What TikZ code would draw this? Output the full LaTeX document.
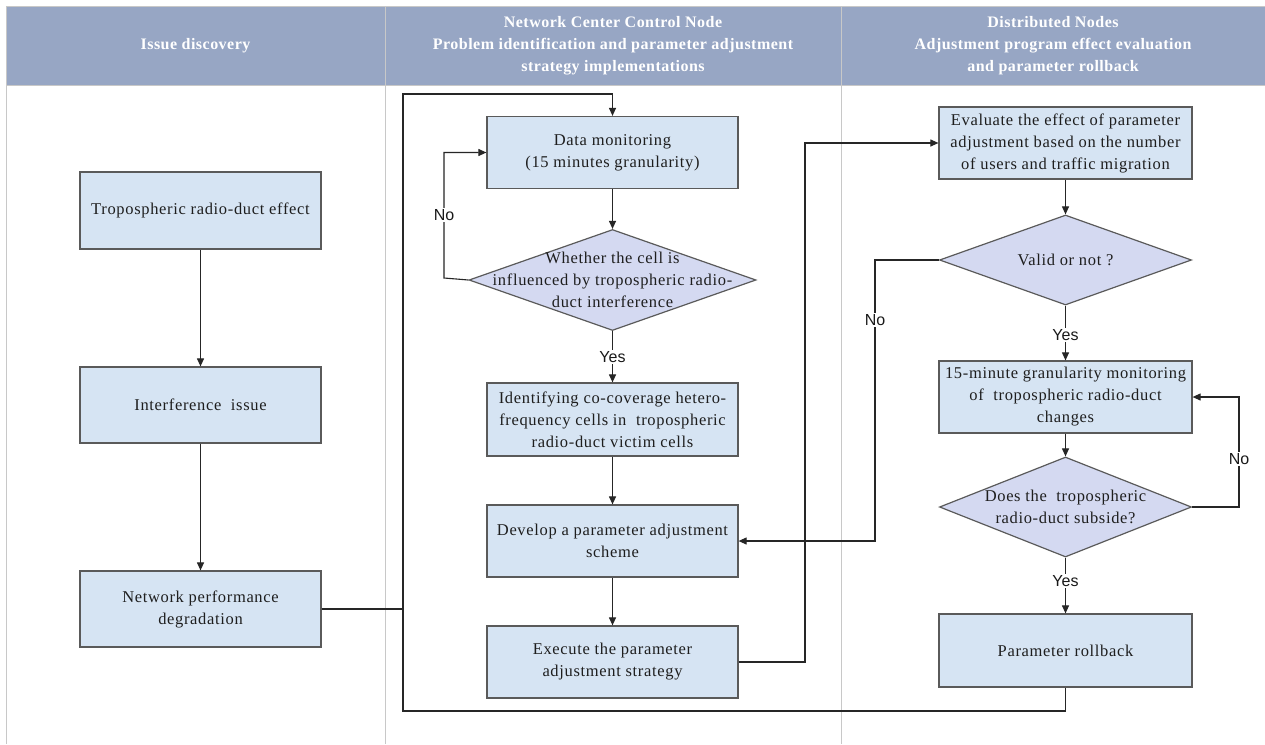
\documentclass[tikz,border=0pt]{standalone}
\usepackage{fontspec}
\setmainfont{Liberation Serif}
\newfontfamily\boxfont{Liberation Serif}[LetterSpace=4]
\newfontfamily\headfont{Liberation Serif}[LetterSpace=3]
\newfontfamily\labfont{Liberation Sans}
\usetikzlibrary{arrows.meta,shapes.geometric}
\definecolor{headbg}{RGB}{151,166,196}
\definecolor{boxfill}{RGB}{214,228,243}
\definecolor{dfill}{RGB}{212,217,241}
\definecolor{boxline}{RGB}{90,90,90}
\definecolor{laneline}{RGB}{200,200,200}
\definecolor{txt}{RGB}{30,30,30}
\begin{document}
\begin{tikzpicture}[x=1pt,y=-1pt,
  stepbox/.style={draw=boxline, fill=boxfill, line width=1.2pt, rectangle, inner sep=0pt, align=center, text=txt, font=\boxfont\fontsize{16.5}{22}\selectfont},
  decision/.style={draw=boxline, fill=dfill, line width=1.2pt, diamond, inner sep=0pt},
  dtext/.style={align=center, text=txt, inner sep=0pt, font=\boxfont\fontsize{16.5}{22}\selectfont},
  conn/.style={draw=black!85, line width=1.1pt},
  arr/.style={conn, -{Triangle[length=8pt,width=7pt]}},
  lab/.style={fill=white, inner sep=1.5pt, font=\labfont\fontsize{16}{19}\selectfont, text=black!90},
  headtxt/.style={text=white, align=center, inner sep=0pt, font=\headfont\bfseries\fontsize{16}{22}\selectfont},
  lane/.style={draw=laneline, line width=1pt}]
\useasboundingbox (0,0) rectangle (1265,744);
\fill[white] (0,0) rectangle (1265,744);
% header band
\fill[headbg] (6,6) rectangle (1265,85);
\draw[lane] (6,6) -- (1265,6);
\draw[lane] (6,85) -- (1265,85);
\draw[lane] (6.5,6) -- (6.5,744);
\draw[lane] (385,6) -- (385,744);
\draw[lane] (841,6) -- (841,744);
\node[headtxt] (h1) at (195.5,46) {Issue discovery};
\node[headtxt] (h2) at (613,46) {Network Center Control Node\\Problem identification and parameter adjustment\\strategy implementations};
\node[headtxt] (h3) at (1053,46) {Distributed Nodes\\Adjustment program effect evaluation\\and parameter rollback};
% lane 1
\node[stepbox, minimum width=241pt, minimum height=77pt] (trop) at (200.5,210.5) {Tropospheric radio-duct effect};
\node[stepbox, minimum width=241pt, minimum height=76pt] (inter) at (200.5,405) {Interference\ \ issue};
\node[stepbox, minimum width=241pt, minimum height=76pt] (netp) at (200.5,609) {Network performance\\degradation};
% lane 2
\node[stepbox, minimum width=251pt, minimum height=72pt] (dm) at (612.5,152.5) {Data monitoring\\(15 minutes granularity)};
\node[decision, minimum width=287pt, minimum height=101pt, label={[dtext]center:{Whether the cell is\\influenced by tropospheric radio-\\duct interference}}] (d1) at (612.5,280) {};
\node[stepbox, minimum width=251pt, minimum height=73pt] (ident) at (612.5,419.5) {Identifying co-coverage hetero-\\frequency cells in\ \ tropospheric\\radio-duct victim cells};
\node[stepbox, minimum width=251pt, minimum height=72pt] (dev) at (612.5,541) {Develop a parameter adjustment\\scheme};
\node[stepbox, minimum width=251pt, minimum height=72pt] (exe) at (612.5,662) {Execute the parameter\\adjustment strategy};
% lane 3
\node[stepbox, minimum width=253pt, minimum height=72pt] (eval) at (1065.5,143) {Evaluate the effect of parameter\\adjustment based on the number\\of users and traffic migration};
\node[decision, minimum width=252pt, minimum height=90pt, label={[dtext]center:{Valid or not ?}}] (valid) at (1065.5,260) {};
\node[stepbox, minimum width=253pt, minimum height=72pt] (mon) at (1065.5,397) {15-minute granularity monitoring\\of\ \ tropospheric radio-duct\\changes};
\node[decision, minimum width=252pt, minimum height=100pt, label={[dtext]center:{Does the\ \ tropospheric\\radio-duct subside?}}] (d2) at (1065.5,507) {};
\node[stepbox, minimum width=253pt, minimum height=73pt] (rb) at (1065.5,650.5) {Parameter rollback};
% coordinates for routing
\coordinate (jL) at (403,94);
\coordinate (jB) at (403,711);
\coordinate (c1) at (444,278);
\coordinate (c2) at (805,143);
\coordinate (c3) at (875,260);
\coordinate (c4) at (1239,507);
% connectors lane 1
\draw[arr] (trop) -- (inter);
\draw[arr] (inter) -- (netp);
% big loop
\draw[arr] (netp.east) -| (jL) -| (dm.north);
\draw[conn] (rb.south) |- (jB) -- (403,609);
% lane 2
\draw[arr] (dm) -- (d1);
\draw[arr] (d1.west) -- (c1) |- (dm.west) node[lab, pos=0.25] (no1) {No};
\draw[arr] (d1.south) -- (ident.north) node[lab, midway] (yes1) {Yes};
\draw[arr] (ident) -- (dev);
\draw[arr] (dev) -- (exe);
\draw[arr] (exe.east) -| (c2) -- (eval.west);
% lane 3
\draw[arr] (eval) -- (valid);
\draw[arr] (valid.west) -- (c3) |- (dev.east) node[lab, pos=0.107] (no2) {No};
\draw[arr] (valid.south) -- (mon.north) node[lab, pos=0.54] (yes2) {Yes};
\draw[arr] (mon) -- (d2);
\draw[arr] (d2.east) -- (c4) |- (mon.east) node[lab, pos=0.22] (no3) {No};
\draw[arr] (d2.south) -- (rb.north) node[lab, pos=0.42] (yes3) {Yes};
\end{tikzpicture}
\end{document}
